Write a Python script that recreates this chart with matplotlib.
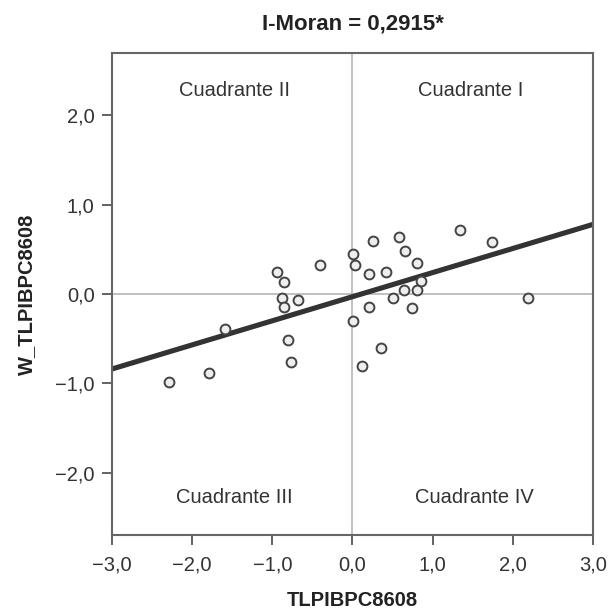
import matplotlib
matplotlib.use("Agg")
import matplotlib.pyplot as plt
import numpy as np

plt.rcParams['font.family'] = ['Liberation Sans', 'DejaVu Sans']

x_vals = [-2.29, -1.79, -1.59, -0.94, -0.86, -0.88, -0.68, -0.85, -0.80, -0.77, -0.41,
          0.01, 0.03, 0.25, 0.58, 0.66, 0.21, 0.42, 0.81, 0.86, 0.64, 0.80, 0.51, 0.21,
          0.74, 0.01, 0.36, 0.12, 1.34, 1.74, 2.19]
y_vals = [-0.99, -0.88, -0.39, 0.25, 0.135, -0.04, -0.07, -0.15, -0.51, -0.76, 0.32,
          0.45, 0.33, 0.59, 0.64, 0.48, 0.22, 0.25, 0.35, 0.15, 0.04, 0.04, -0.05, -0.15,
          -0.16, -0.30, -0.60, -0.81, 0.72, 0.58, -0.05]

line_slope = 0.27
line_intercept = -0.03

x_ticks = [-3, -2, -1, 0, 1, 2, 3]
y_ticks = [-2, -1, 0, 1, 2]
x_ticklabels = ['\u22123,0', '\u22122,0', '\u22121,0', '0,0', '1,0', '2,0', '3,0']
y_ticklabels = ['\u22122,0', '\u22121,0', '0,0', '1,0', '2,0']

quadrants = ['Cuadrante II', 'Cuadrante I', 'Cuadrante III', 'Cuadrante IV']
quad_pos = [(-1.47, 2.28), (1.48, 2.28), (-1.47, -2.28), (1.52, -2.28)]

title = 'I-Moran = 0,2915*'
xlabel = 'TLPIBPC8608'
ylabel = 'W_TLPIBPC8608'

fig = plt.figure(figsize=(6.10, 6.12), dpi=100)
ax = fig.add_axes([0.1836, 0.1258, 0.7885, 0.7876])

ax.set_xlim(-3, 3)
ax.set_ylim(-2.7, 2.7)

ax.axhline(0, color='#bbbbbb', lw=1.3, zorder=1)
ax.axvline(0, color='#bbbbbb', lw=1.3, zorder=1)

xx = np.array([-3, 3])
ax.plot(xx, line_slope * xx + line_intercept, color='#333333', lw=3.7, zorder=2,
        solid_capstyle='butt')

ax.scatter(x_vals, y_vals, s=50, facecolor='#eeeeee', edgecolor='#444444',
           linewidths=1.4, zorder=3)

for q, (qx, qy) in zip(quadrants, quad_pos):
    ax.text(qx, qy, q, ha='center', va='center', fontsize=14.5, color='#333333')

ax.set_xticks(x_ticks)
ax.set_xticklabels(x_ticklabels)
ax.set_yticks(y_ticks)
ax.set_yticklabels(y_ticklabels)
ax.tick_params(direction='out', length=7.5, width=1.3, colors='#555555',
               labelcolor='#333333', labelsize=14.5)
ax.tick_params(axis='x', pad=7)
ax.tick_params(axis='y', pad=5)

for s in ax.spines.values():
    s.set_color('#666666')
    s.set_linewidth(1.5)

ax.set_title(title, fontsize=16, fontweight='bold', color='#222222', pad=17)
ax.set_xlabel(xlabel, fontsize=14.5, fontweight='bold', color='#222222', labelpad=12)
ax.set_ylabel(ylabel, fontsize=14.5, fontweight='bold', color='#222222', labelpad=14)

fig.savefig('out.png', dpi=100)
